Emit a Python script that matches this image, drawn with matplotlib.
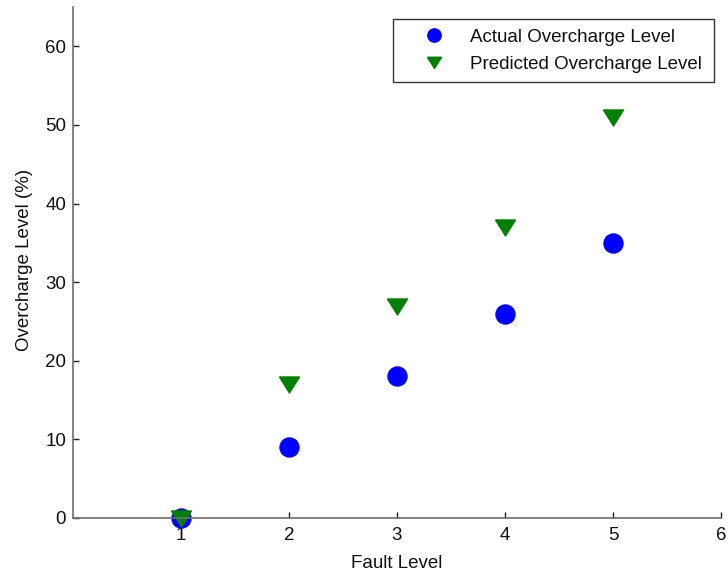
import matplotlib
matplotlib.use("Agg")
import matplotlib.pyplot as plt

plt.rcParams['font.family'] = ['Liberation Sans', 'DejaVu Sans']

fault_level = [1, 2, 3, 4, 5]
actual_overcharge = [0, 9, 18, 26, 35]
predicted_overcharge = [0, 17, 27, 37, 51]
x_ticks = [1, 2, 3, 4, 5, 6]
y_ticks = [0, 10, 20, 30, 40, 50, 60]

W, H = 728, 573
FS = 13.5
TEXT = '#111111'

# flat downward triangle, wider than it is tall
tri_down = [(-1.0, 0.75), (1.0, 0.75), (0.0, -0.85), (-1.0, 0.75)]

fig = plt.figure(figsize=(W / 100, H / 100), dpi=100)
ax = fig.add_axes([73 / W, 1 - 518 / H, (721 - 73) / W, (518 - 7) / H])

ax.plot(fault_level, actual_overcharge, linestyle='none', marker='o',
        markersize=13.7, color=(0, 0, 1), clip_on=False,
        label='Actual Overcharge Level')
ax.plot(fault_level, predicted_overcharge, linestyle='none', marker=tri_down,
        markersize=14.4, color=(0, 0.5, 0), clip_on=False,
        label='Predicted Overcharge Level')

ax.set_xlim(0, 6)
ax.set_ylim(0, 65)
ax.set_xticks(x_ticks)
ax.set_yticks(y_ticks)

for side in ('top', 'right'):
    ax.spines[side].set_visible(False)
for side in ('left', 'bottom'):
    ax.spines[side].set_color('#6e6e6e')
    ax.spines[side].set_linewidth(1.2)

ax.tick_params(direction='in', length=4.5, width=1, color='#202020',
               labelsize=FS, labelcolor=TEXT, pad=5)
ax.tick_params(axis='x', pad=6.5)

ax.set_xlabel('Fault Level', fontsize=FS, color=TEXT, labelpad=8)
ax.set_ylabel('Overcharge Level (%)', fontsize=FS, color=TEXT)
ax.yaxis.set_label_coords(-0.062, 0.505)

leg = ax.legend(loc='upper left',
                bbox_to_anchor=(393 / W, (H - 81) / H, (714 - 393) / W, 62 / H),
                bbox_transform=fig.transFigure, mode='expand', borderaxespad=0,
                fontsize=FS, fancybox=False, frameon=True, handletextpad=0.23,
                borderpad=0.5, labelspacing=0.55, markerscale=0.7,
                handlelength=3.37)
leg.get_frame().set_edgecolor('black')
leg.get_frame().set_linewidth(1)
for t in leg.get_texts():
    t.set_color(TEXT)

fig.savefig('out.png', dpi=100)
